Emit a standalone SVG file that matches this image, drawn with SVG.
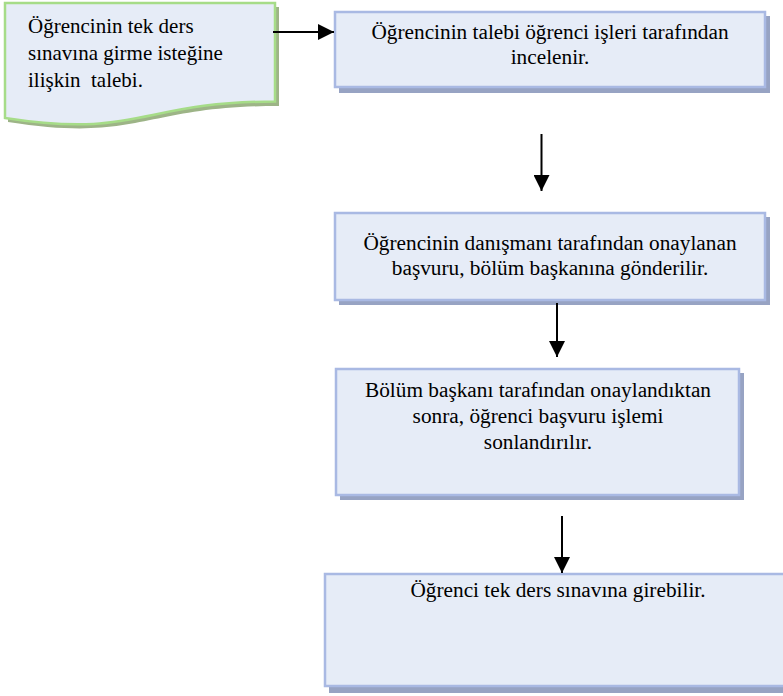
<svg xmlns="http://www.w3.org/2000/svg" width="783" height="696" viewBox="0 0 783 696">
<style>
.box{fill:#E6ECF7;stroke:#A9B9E3;stroke-width:2.5}
.shadow{fill:#97A3C3}
.doc{fill:#E6ECF7;stroke:#A6DC88;stroke-width:2.5}
.docsh{fill:#9DB487}
.t{font-family:'Liberation Serif','Times New Roman',serif;font-size:21.3px;fill:#000}
.d{font-size:21px}
.c{text-anchor:middle}
.conn{stroke:#000;stroke-width:2;fill:none}
</style>
<defs>
<marker id="ah" markerWidth="8" markerHeight="8" refX="8" refY="4" orient="auto" markerUnits="strokeWidth">
<path d="M0,0 L8,4 L0,8 Z" fill="#000"/>
</marker>
</defs>
<rect width="783" height="696" fill="#fff"/>
<g id="doc">
<path class="docsh" d="M8,7 H279 V106 C141,106 141,143 8,122 Z"/>
<path class="doc" d="M5,3 H275 V101.6 C140,101.6 140,139 5,118 Z"/>
<text class="t d" x="28" y="33">Öğrencinin tek ders</text>
<text class="t d" x="28" y="60">sınavına girme isteğine</text>
<text class="t d" x="28" y="87" xml:space="preserve">ilişkin  talebi.</text>
</g>
<g id="n1">
<rect class="shadow" x="339" y="16" width="431" height="77"/>
<rect class="box" x="335" y="12" width="430" height="75"/>
<text class="t c" x="550" y="39">Öğrencinin talebi öğrenci işleri tarafından</text>
<text class="t c" x="550" y="64">incelenir.</text>
</g>
<g id="n2">
<rect class="shadow" x="339" y="217" width="431" height="88"/>
<rect class="box" x="335" y="213" width="430" height="87"/>
<text class="t c" x="550" y="250">Öğrencinin danışmanı tarafından onaylanan</text>
<text class="t c" x="550" y="275">başvuru, bölüm başkanına gönderilir.</text>
</g>
<g id="n3">
<rect class="shadow" x="340" y="373" width="404" height="127"/>
<rect class="box" x="336" y="369" width="403" height="126"/>
<text class="t c" x="538" y="397">Bölüm başkanı tarafından onaylandıktan</text>
<text class="t c" x="538" y="423">sonra, öğrenci başvuru işlemi</text>
<text class="t c" x="538" y="449">sonlandırılır.</text>
</g>
<g id="n4">
<rect class="shadow" x="329" y="578" width="470" height="115"/>
<rect class="box" x="325" y="574" width="470" height="112"/>
<text class="t c" x="558" y="597">Öğrenci tek ders sınavına girebilir.</text>
</g>
<g id="connectors">
<line class="conn" x1="273" y1="32" x2="334" y2="32" marker-end="url(#ah)"/>
<line class="conn" x1="541.5" y1="134" x2="541.5" y2="191" marker-end="url(#ah)"/>
<line class="conn" x1="557" y1="303" x2="557" y2="357" marker-end="url(#ah)"/>
<line class="conn" x1="562" y1="516" x2="562" y2="573" marker-end="url(#ah)"/>
</g>
</svg>
